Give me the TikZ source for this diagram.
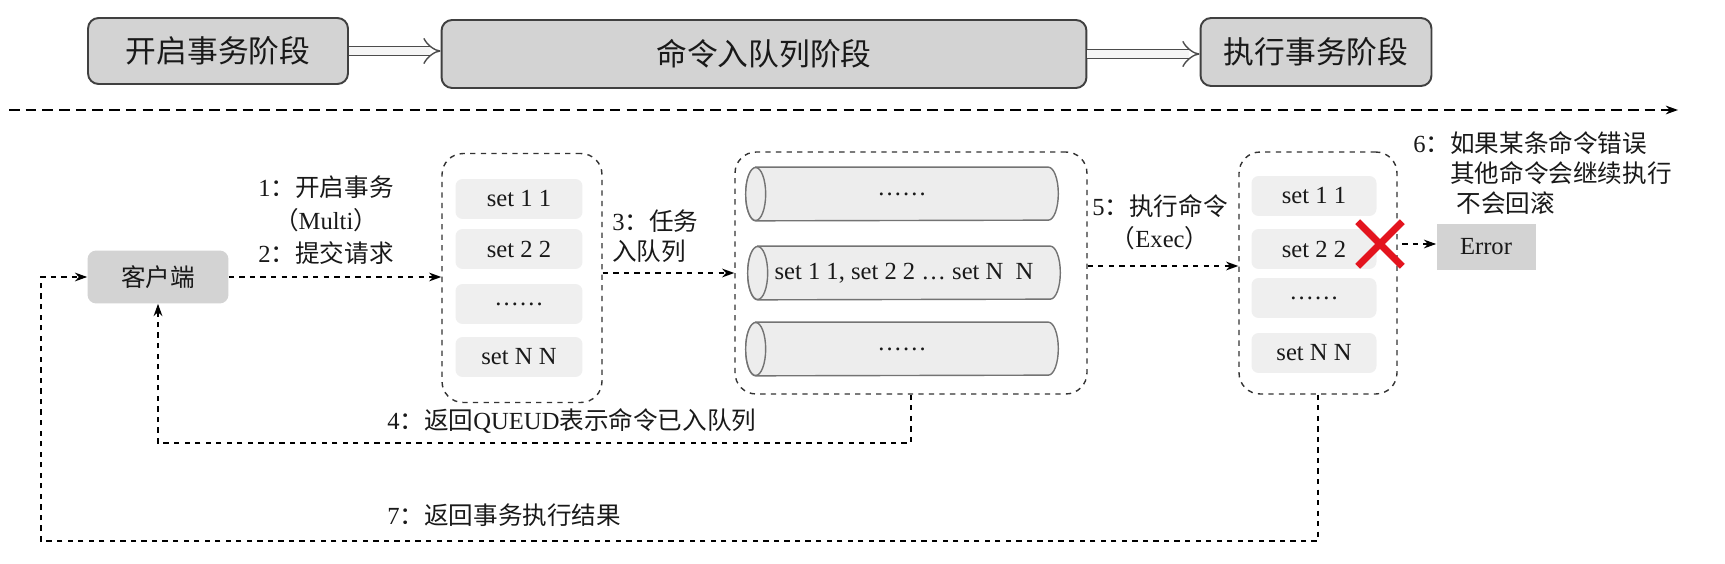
\documentclass[tikz,border=0pt]{standalone}
\usepackage{fontspec}
\setmainfont{Liberation Serif}
\newfontfamily\cjk{Noto Sans CJK SC}
\newcommand{\zh}[1]{{\cjk #1}}
\usetikzlibrary{arrows.meta, shapes.misc, backgrounds}

\definecolor{boxgray}{HTML}{D3D3D3}
\definecolor{itemgray}{HTML}{EFEFEF}
\definecolor{cylgray}{HTML}{EDEDED}
\definecolor{xred}{HTML}{E3141E}

\tikzset{
	stage/.style={draw=black!75, line width=1.1pt, fill=boxgray, rounded corners=6pt, font=\fontsize{17.5}{20}\selectfont},
	client/.style={fill=boxgray, rounded corners=5pt, minimum width=2.82cm, minimum height=1.06cm},
	group/.style={draw=black!80, dashed, line width=0.8pt, rounded corners=12pt},
	item/.style={fill=itemgray, rounded corners=4pt, minimum width=2.54cm, minimum height=0.8cm},
	queue/.style={inner sep=0pt, minimum width=5.84cm, minimum height=1.06cm},
	cylline/.style={draw=black!55, line width=0.8pt, fill=cylgray},
	flow/.style={dashed, line width=0.8pt, -{Stealth[length=7pt,width=5pt]}},
	phase/.style={double=gray!8, double distance=4.5pt, line width=0.8pt, draw=black!70, -{Implies}},
	lbl/.style={inner sep=0pt, align=center}
}

\begin{document}
\begin{tikzpicture}[x=0.02cm, y=-0.02cm, font=\fontsize{14}{18.7}\selectfont, text=black!90]
	\useasboundingbox (0,0) rectangle (1725,564);
	
	% --- STAGES ---
	\node[stage, minimum width=5.2cm, minimum height=1.32cm] (OpenStage) at (218,51) {\zh{开启事务阶段}};
	\node[stage, minimum width=12.9cm, minimum height=1.36cm] (QueueStage) at (764,54) {\zh{命令入队列阶段}};
	\node[stage, minimum width=4.62cm, minimum height=1.36cm] (ExecStage) at (1316,52) {\zh{执行事务阶段}};
	\draw[phase] (OpenStage.east) -- (OpenStage.east -| QueueStage.west);
	\draw[phase] (QueueStage.east) -- (QueueStage.east -| ExecStage.west);
	
	% Timeline
	\coordinate (TimeStart) at (9,110);
	\coordinate (TimeEnd) at (1678,110);
	\draw[flow, dash pattern=on 6pt off 3.5pt] (TimeStart) -- (TimeEnd);
	
	% --- CLIENT ---
	\node[client] (Client) at (158,277) {\zh{客户端}};
	
	% Command list
	\node[group, minimum width=3.2cm, minimum height=4.98cm] (QueueBox) at (522,278) {};
	\node[item] (Q1) at (519,199) {set 1 1};
	\node[item] (Q2) at (519,249) {set 2 2};
	\node[item] (Q3) at (519,304) {……};
	\node[item] (Q4) at (519,357) {set N N};
	
	% Queues
	\node[group, minimum width=7.04cm, minimum height=4.84cm] (CylBox) at (911,273) {};
	\node[queue] (Cyl1) at (902,194) {……};
	\node[queue] (Cyl2) at (904,273) {set 1 1, set 2 2 … set N\ \ N};
	\node[queue] (Cyl3) at (902,349) {……};
	\begin{scope}[on background layer]
		\foreach \c in {Cyl1,Cyl2,Cyl3} {
			\draw[cylline] (\c.north west) -- (\c.north east) arc[start angle=90, end angle=-90, x radius=0.2cm, y radius=0.53cm] -- (\c.south west) arc[start angle=-90, end angle=-270, x radius=0.2cm, y radius=0.53cm] -- cycle;
			\draw[cylline] (\c.west) ellipse[x radius=0.2cm, y radius=0.53cm];
		}
	\end{scope}
	
	% Execution
	\node[group, minimum width=3.16cm, minimum height=4.84cm] (ExecBox) at (1318,273) {};
	\node[item, minimum width=2.5cm] (E1) at (1314,196) {set 1 1};
	\node[item, minimum width=2.5cm] (E2) at (1314,249) {set 2 2};
	\node[item, minimum width=2.5cm] (E3) at (1314,298) {……};
	\node[item, minimum width=2.5cm] (E4) at (1314,353) {set N N};
	
	\node[cross out, draw=xred, line width=4pt, minimum size=0.75cm, inner sep=0pt] (Fail) at (1380,244) {};
	\node[fill=boxgray, minimum width=1.98cm, minimum height=0.94cm] (Err) at (1486,247) {Error};
	
	% --- CONNECTIONS ---
	\draw[flow] (Client.east) -- (Client.east -| QueueBox.west);
	\draw[flow] (CylBox.west -| QueueBox.east) -- (CylBox.west);
	\draw[flow] ([yshift=0.14cm]CylBox.east) -- ([yshift=0.14cm]CylBox.east -| ExecBox.west);
	\draw[flow] (Fail.east) -- (Fail.east -| Err.west);
	
	% Returns
	\coordinate (Ret4) at (0,443);
	\coordinate (Ret7) at (41,541);
	\draw[flow] (CylBox.south) -- (CylBox.south |- Ret4) -| (Client.south);
	\draw[flow] (ExecBox.south) |- (Ret7) |- (Client.west);
	
	% Labels
	\node[lbl] (Lbl1) at (326,220) {1\zh{：开启事务}\\\zh{（}Multi\zh{）}\\2\zh{：提交请求}};
	\node[lbl, align=left, anchor=west, font=\fontsize{14}{17}\selectfont] (Lbl3) at (612,236) {3\zh{：任务}\\\zh{入队列}};
	\node[lbl, font=\fontsize{14}{18}\selectfont] (Lbl5) at (1160,222) {5\zh{：执行命令}\\\zh{（}Exec\zh{）}};
	\node[lbl, align=left, anchor=west, font=\fontsize{14}{17}\selectfont] (Lbl6) at (1413,173) {6\zh{：如果某条命令错误}\\\phantom{6\zh{：}}\zh{其他命令会继续执行}\\\phantom{6\zh{：}} \zh{不会回滚}};
	\node[lbl, anchor=west] (Lbl4) at (387,421) {4\zh{：返回}QUEUD\zh{表示命令已入队列}};
	\node[lbl, anchor=west] (Lbl7) at (387,515) {7\zh{：返回事务执行结果}};
	
\end{tikzpicture}
\end{document}
